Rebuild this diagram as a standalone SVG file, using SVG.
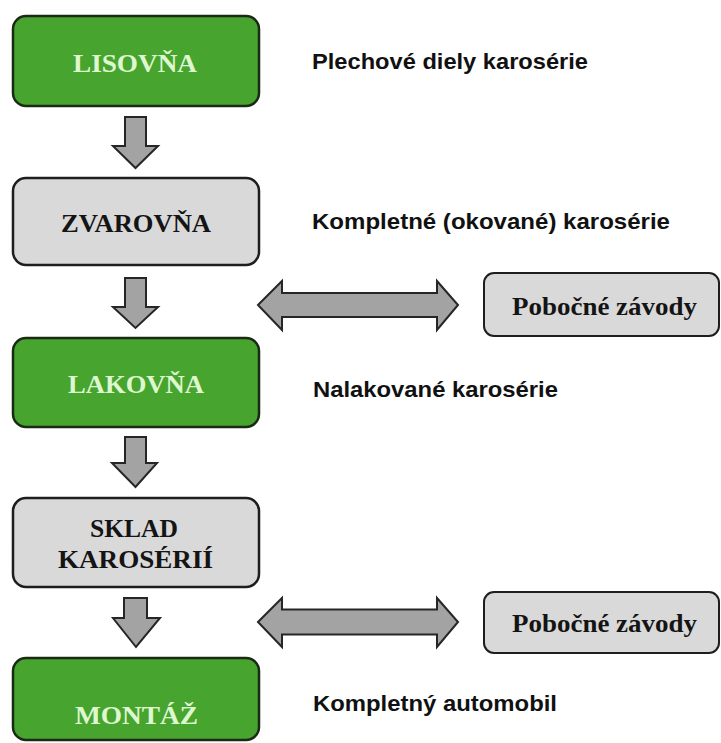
<svg xmlns="http://www.w3.org/2000/svg" width="721" height="743" viewBox="0 0 721 743">
<style>
.green{fill:#47a52f;stroke:#1b2a14;stroke-width:2.5}
.gray{fill:#d9d9d9;stroke:#1e1e1e;stroke-width:2.5}
.side{fill:#d9d9d9;stroke:#1e1e1e;stroke-width:2}
.arr{fill:#a3a3a3;stroke:#262626;stroke-width:2;stroke-linejoin:miter}
.tg{font-family:"Liberation Serif","Times New Roman",serif;font-weight:bold;font-size:25px;fill:#dff7cf;text-anchor:start}
.tk{font-family:"Liberation Serif","Times New Roman",serif;font-weight:bold;font-size:25px;fill:#141414;text-anchor:start}
.lab{font-family:"Liberation Sans",Arial,sans-serif;font-weight:bold;font-size:22px;fill:#111}
</style>
<rect width="721" height="743" fill="#ffffff"/>
<g id="connectors">
<polygon class="arr" points="125,117 146,117 146,146 158,146 135.5,168 113,146 125,146"/>
<polygon class="arr" points="125,278 146,278 146,307 158,307 135.5,328 113,307 125,307"/>
<polygon class="arr" points="125,437 146,437 146,463 157,463 135.5,487 112,463 125,463"/>
<polygon class="arr" points="124,598 147,598 147,618 160,618 136,647 113,618 124,618"/>
<polygon class="arr" points="258,305 282,281 282,293 437,293 437,281 458,305 437,330 437,317 282,317 282,330"/>
<polygon class="arr" points="258,622 282,598 282,609.5 437,609.5 437,598 458,622 437,647 437,634.5 282,634.5 282,647"/>
</g>
<g id="lisovna">
<rect class="green" x="13" y="16" width="246" height="90" rx="13"/>
<text class="tg" x="73" y="72" textLength="124" lengthAdjust="spacingAndGlyphs">LISOVŇA</text>
</g>
<g id="zvarovna">
<rect class="gray" x="13" y="178" width="246" height="87" rx="13"/>
<text class="tk" x="61" y="232" textLength="150" lengthAdjust="spacingAndGlyphs">ZVAROVŇA</text>
</g>
<g id="lakovna">
<rect class="green" x="13" y="338" width="246" height="89" rx="13"/>
<text class="tg" x="68" y="393" textLength="136" lengthAdjust="spacingAndGlyphs">LAKOVŇA</text>
</g>
<g id="sklad">
<rect class="gray" x="13" y="498" width="246" height="89" rx="13"/>
<text class="tk" x="90" y="537" textLength="88" lengthAdjust="spacingAndGlyphs">SKLAD</text>
<text class="tk" x="58" y="568" textLength="155" lengthAdjust="spacingAndGlyphs">KAROSÉRIÍ</text>
</g>
<g id="montaz">
<rect class="green" x="13" y="658" width="246" height="82" rx="13"/>
<text class="tg" x="75" y="724" textLength="123" lengthAdjust="spacingAndGlyphs">MONTÁŽ</text>
</g>
<g id="pobocne1">
<rect class="side" x="484" y="273" width="235" height="63" rx="10"/>
<text class="tk" x="512" y="315" textLength="185" lengthAdjust="spacingAndGlyphs">Pobočné závody</text>
</g>
<g id="pobocne2">
<rect class="side" x="484" y="592" width="235" height="61" rx="10"/>
<text class="tk" x="512" y="632" textLength="185" lengthAdjust="spacingAndGlyphs">Pobočné závody</text>
</g>
<g id="labels">
<text class="lab" x="312" y="69" textLength="276" lengthAdjust="spacingAndGlyphs">Plechové diely karosérie</text>
<text class="lab" x="312" y="229" textLength="358" lengthAdjust="spacingAndGlyphs">Kompletné (okované) karosérie</text>
<text class="lab" x="313" y="397" textLength="245" lengthAdjust="spacingAndGlyphs">Nalakované karosérie</text>
<text class="lab" x="313" y="711" textLength="244" lengthAdjust="spacingAndGlyphs">Kompletný automobil</text>
</g>
</svg>
